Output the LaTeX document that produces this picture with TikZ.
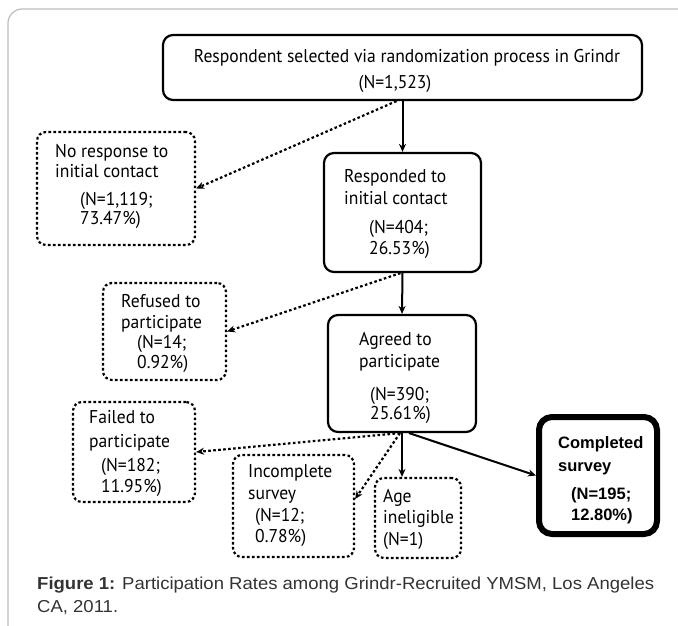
\documentclass[tikz,border=0pt]{standalone}
\usepackage{fontspec}
\setmainfont[FakeStretch=0.95]{PT Sans}
\newfontfamily\arialf{Liberation Sans}
\newfontfamily\captf[FakeStretch=1.07]{Liberation Sans}
\usetikzlibrary{arrows.meta}
\definecolor{framegray}{HTML}{BDBDBD}
\definecolor{captgray}{HTML}{333333}
\tikzset{
 sbox/.style={draw, line width=2.2pt, rounded corners=10pt, inner sep=0pt},
 dbox/.style={draw, line width=2.2pt, rounded corners=9pt, dash pattern=on 2.6pt off 2.4pt, inner sep=0pt},
 bbox/.style={draw, line width=6pt, rounded corners=13pt, inner sep=0pt},
 txt/.style={inner sep=0pt, anchor=mid west, font=\fontsize{18.5}{22}\selectfont},
 btxt/.style={inner sep=0pt, anchor=mid west, font=\arialf\bfseries\fontsize{16.5}{20}\selectfont},
 ctxt/.style={inner sep=0pt, anchor=mid west, text=captgray, font=\captf\fontsize{17.3}{20}\selectfont},
 sarrow/.style={line width=2pt, -{Stealth[length=8pt,width=7pt]}},
 darrow/.style={line width=2.2pt, dash pattern=on 2.6pt off 2.4pt, -{Stealth[length=8pt,width=7pt]}},
}
\begin{document}
\begin{tikzpicture}[x=1pt,y=-1pt]
\useasboundingbox (0,0) rectangle (678,626);
\draw[framegray, line width=1.2pt, rounded corners=14pt] (679,9) -- (8,9) -- (8,627);
% boxes
\node[sbox, minimum width=479pt, minimum height=65pt] (top) at (402.5,67.5) {};
\node[dbox, minimum width=158pt, minimum height=113pt] (noresp) at (116,188.5) {};
\node[sbox, minimum width=157pt, minimum height=119pt] (resp) at (402.5,212.5) {};
\node[dbox, minimum width=123pt, minimum height=97pt] (refused) at (164.5,331.5) {};
\node[sbox, minimum width=148pt, minimum height=117pt] (agreed) at (402,373.5) {};
\node[dbox, minimum width=122pt, minimum height=100pt] (failed) at (134,452) {};
\node[dbox, minimum width=121pt, minimum height=102pt] (incomp) at (293.5,506) {};
\node[dbox, minimum width=86pt, minimum height=80pt] (age) at (418,518) {};
\node[bbox, minimum width=118pt, minimum height=117pt] (comp) at (598,475.5) {};
% texts
\node[txt, anchor=mid] (topA) at (407,60) {Respondent selected via randomization process in Grindr};
\node[txt, anchor=mid] (topB) at (395,86) {(N=1,523)};
\node[txt] (nrA) at (55,155) {No response to};
\node[txt] (nrB) at (55,175) {initial contact};
\node[txt] (nrC) at (80,203) {(N=1,119;};
\node[txt] (nrD) at (80,222) {73.47\%)};
\node[txt] (rsA) at (344,180) {Responded to};
\node[txt] (rsB) at (344,202) {initial contact};
\node[txt] (rsC) at (369,231) {(N=404;};
\node[txt] (rsD) at (369,252) {26.53\%)};
\node[txt] (rfA) at (121,305) {Refused to};
\node[txt] (rfB) at (121,326) {participate};
\node[txt] (rfC) at (137,346) {(N=14;};
\node[txt] (rfD) at (137,366) {0.92\%)};
\node[txt] (agA) at (359,343) {Agreed to};
\node[txt] (agB) at (359,365) {participate};
\node[txt] (agC) at (370,398) {(N=390;};
\node[txt] (agD) at (370,417) {25.61\%)};
\node[txt] (flA) at (89,421) {Failed to};
\node[txt] (flB) at (89,445) {participate};
\node[txt] (flC) at (101,469) {(N=182;};
\node[txt] (flD) at (101,490) {11.95\%)};
\node[txt] (icA) at (248,475) {Incomplete};
\node[txt] (icB) at (248,497) {survey};
\node[txt] (icC) at (255,519) {(N=12;};
\node[txt] (icD) at (255,540) {0.78\%)};
\node[txt] (agea) at (383,500) {Age};
\node[txt] (ageb) at (383,521) {ineligible};
\node[txt] (agec) at (383,543) {(N=1)};
\node[btxt] (cpA) at (558,446) {Completed};
\node[btxt] (cpB) at (558,469) {survey};
\node[btxt] (cpC) at (571,497) {(N=195;};
\node[btxt] (cpD) at (571,518) {12.80\%)};
% caption
\node[ctxt] (cap1) at (37,587) {\textbf{Figure 1:} Participation Rates among Grindr-Recruited YMSM, Los Angeles};
\node[ctxt] (cap2) at (37,610) {CA, 2011.};
% connectors
\draw[sarrow] (top.south) -- (resp.north);
\draw[darrow] ([xshift=-6pt]top.south) -- (noresp.east);
\draw[sarrow] (resp.south) -- (agreed.north);
\draw[darrow] ([xshift=-2pt]resp.south) -- (refused.east);
\draw[sarrow] (agreed.south) -- (agreed.south |- age.north);
\draw[darrow] ([xshift=-2pt]agreed.south) -- (failed.east);
\draw[darrow] ([xshift=-2pt]agreed.south) -- ([yshift=7pt]incomp.east);
\draw[sarrow] ([xshift=7pt]agreed.south) -- (comp.west);
\end{tikzpicture}
\end{document}
